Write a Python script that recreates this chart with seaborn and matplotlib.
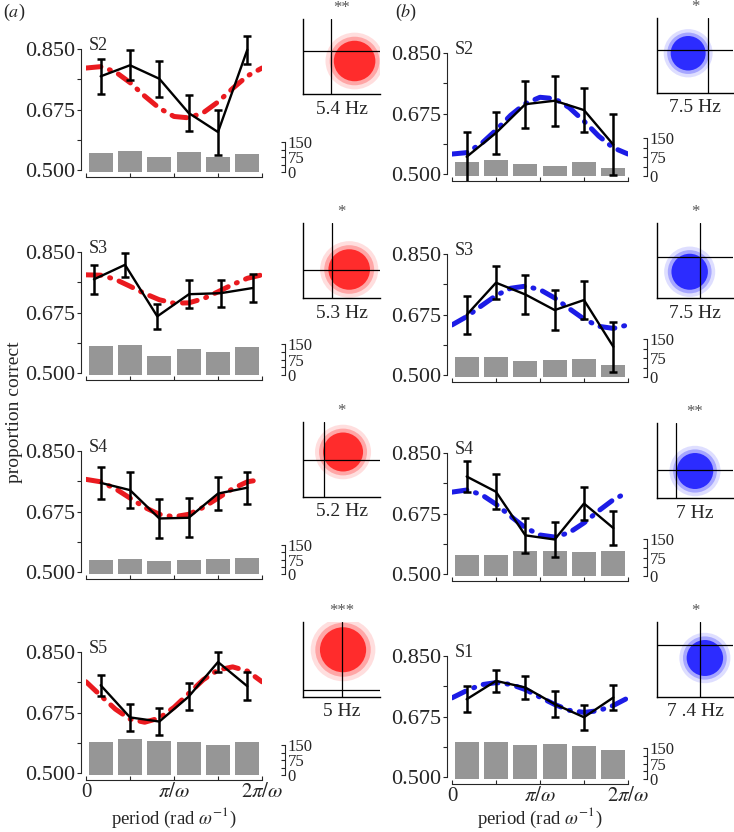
import numpy as np
import matplotlib.pyplot as plt
import pandas as pd
import seaborn as sns
from matplotlib.patches import Circle

sns.set_style("ticks")
plt.rcParams['font.family'] = ['Liberation Serif', 'DejaVu Serif']
plt.rcParams['mathtext.fontset'] = 'stix'

# ---- data ----
# panel order: (a) S2, S3, S4, S5 then (b) S2, S3, S4, S1
subjects = ['S2', 'S3', 'S4', 'S5', 'S2', 'S3', 'S4', 'S1']
freqs = ['5.4 Hz', '5.3 Hz', '5.2 Hz', '5 Hz', '7.5 Hz', '7.5 Hz', '7 Hz', '7 .4 Hz']
stars = ['**', '*', '*', '***', '*', '*', '**', '*']

# phase bin of each point (in units of bin width, 6 bins over one period)
std_bins = [0.5, 1.5, 2.5, 3.5, 4.5, 5.5]
point_bins = [std_bins, [0.27, 1.33, 2.43, 3.51, 4.59, 5.69], std_bins, std_bins,
              std_bins, std_bins, std_bins, std_bins]

means = [
    [0.771, 0.803, 0.764, 0.665, 0.610, 0.848],
    [0.771, 0.813, 0.664, 0.728, 0.731, 0.746],
    [0.758, 0.737, 0.655, 0.657, 0.727, 0.744],
    [0.754, 0.661, 0.649, 0.721, 0.821, 0.751],
    [0.550, 0.619, 0.702, 0.712, 0.685, 0.585],
    [0.674, 0.767, 0.733, 0.688, 0.717, 0.582],
    [0.782, 0.738, 0.612, 0.600, 0.704, 0.633],
    [0.725, 0.778, 0.759, 0.711, 0.673, 0.730],
]
errs = [
    [0.050, 0.043, 0.052, 0.052, 0.065, 0.040],
    [0.042, 0.035, 0.037, 0.040, 0.039, 0.041],
    [0.047, 0.051, 0.055, 0.056, 0.048, 0.046],
    [0.030, 0.038, 0.040, 0.038, 0.029, 0.040],
    [0.072, 0.060, 0.068, 0.072, 0.063, 0.089],
    [0.054, 0.047, 0.055, 0.057, 0.054, 0.072],
    [0.045, 0.050, 0.050, 0.050, 0.047, 0.050],
    [0.037, 0.031, 0.032, 0.037, 0.036, 0.036],
]
# fitted curve sampled every pi/6 across the period
fits = [
    [0.795, 0.799, 0.784, 0.753, 0.714, 0.679, 0.655, 0.651, 0.666, 0.697, 0.736, 0.772, 0.795],
    [0.784, 0.783, 0.771, 0.751, 0.730, 0.712, 0.702, 0.703, 0.715, 0.735, 0.756, 0.774, 0.784],
    [0.768, 0.761, 0.741, 0.714, 0.687, 0.667, 0.660, 0.667, 0.687, 0.714, 0.741, 0.761, 0.768],
    [0.764, 0.724, 0.685, 0.656, 0.647, 0.659, 0.690, 0.730, 0.770, 0.798, 0.807, 0.795, 0.764],
    [0.558, 0.562, 0.588, 0.627, 0.670, 0.704, 0.722, 0.718, 0.692, 0.653, 0.610, 0.576, 0.558],
    [0.645, 0.669, 0.700, 0.730, 0.751, 0.757, 0.747, 0.723, 0.692, 0.662, 0.641, 0.635, 0.645],
    [0.737, 0.743, 0.730, 0.702, 0.667, 0.634, 0.613, 0.607, 0.620, 0.648, 0.683, 0.715, 0.737],
    [0.729, 0.750, 0.767, 0.773, 0.768, 0.753, 0.731, 0.710, 0.693, 0.687, 0.692, 0.707, 0.729],
]
counts = [
    [94, 106, 77, 99, 75, 90],
    [140, 145, 94, 126, 113, 137],
    [75, 77, 68, 72, 80, 82],
    [167, 178, 170, 165, 152, 165],
    [55, 64, 46, 41, 57, 32],
    [79, 80, 62, 66, 72, 47],
    [84, 84, 100, 100, 98, 100],
    [177, 177, 166, 169, 161, 142],
]
# inset: crosshair position and bootstrap cloud (centre, core radius), axes fraction
vlines = [0.36, 0.38, 0.27, 0.50, 0.67, 0.56, 0.25, 0.56]
hlines = [0.57, 0.38, 0.50, 0.10, 0.57, 0.55, 0.38, 0.70]
cloud_x = [0.67, 0.60, 0.52, 0.52, 0.41, 0.43, 0.50, 0.63]
cloud_y = [0.44, 0.38, 0.60, 0.63, 0.53, 0.35, 0.36, 0.52]
cloud_r = [0.27, 0.27, 0.26, 0.30, 0.23, 0.24, 0.24, 0.24]

# ---- layout (pixels) ----
W, H = 734, 832
fig = plt.figure(figsize=(W / 100, H / 100), dpi=100)
px_per_unit = 346.0
col_left = [86, 452]
row_y85 = [[49, 252, 451, 652], [53, 254, 453, 656]]
inset_left = [303, 657]
inset_w = [77, 76]
inset_top = [[19, 223, 422, 622], [18, 223, 423, 622]]
count_px150 = [30, 31, 29, 30, 38, 38, 37, 31]
count_spine_out = [23, 19]
xlabel_y = [818, 818]
fit_colors = ['#ea1a1f', '#1c1ce6']
cloud_colors = ['#ff2626', '#2626ff']

bin_w = np.pi / 3
bar_x = [b * bin_w for b in std_bins]
fit_x = [k * np.pi / 6 for k in range(13)]
ylo, yhi = 0.48, 0.90
ax_h = (yhi - ylo) * px_per_unit

for i in range(8):
    col, row = divmod(i, 4)
    y85 = row_y85[col][row]
    top_px = y85 - (yhi - 0.85) * px_per_unit
    ax = fig.add_axes([col_left[col] / W, 1 - (top_px + ax_h) / H, 176 / W, ax_h / H])

    # count bars on twin axis
    ax2 = ax.twinx()
    df_bar = pd.DataFrame({'phase': bar_x, 'count': counts[i]})
    sns.barplot(data=df_bar, x='phase', y='count', native_scale=True, ax=ax2,
                color='#969696', saturation=1, width=0.82, errorbar=None, linewidth=0)
    c_per_px = 150 / count_px150[i]
    zero_px = 5
    ax2.set_ylim(-zero_px * c_per_px, (ax_h - zero_px) * c_per_px)
    for s in ['top', 'left', 'bottom']:
        ax2.spines[s].set_visible(False)
    ax2.spines['right'].set_position(('outward', count_spine_out[col] * 0.72))
    ax2.spines['right'].set_bounds(0, 150)
    ax2.spines['right'].set_linewidth(0.8)
    ax2.set_yticks([0, 75, 150])
    ax2.set_yticks([37.5, 112.5], minor=True)
    ax2.tick_params(axis='y', which='both', direction='in', length=3, width=0.8,
                    labelsize=12, pad=2)
    ax2.set_xlabel('')
    ax2.set_ylabel('')

    ax.set_zorder(ax2.get_zorder() + 1)
    ax.patch.set_visible(False)

    # fitted curve, means and error bars
    df_fit = pd.DataFrame({'phase': fit_x, 'p': fits[i]})
    sns.lineplot(data=df_fit, x='phase', y='p', ax=ax, color=fit_colors[col], lw=3.6,
                 linestyle=(0, (3.0, 1.8, 0.2, 1.8)), dash_capstyle='round')
    px = [b * bin_w for b in point_bins[i]]
    df_pt = pd.DataFrame({'phase': px, 'p': means[i]})
    sns.lineplot(data=df_pt, x='phase', y='p', ax=ax, color='black', lw=1.7)
    ax.errorbar(px, means[i], yerr=errs[i], fmt='none', ecolor='black',
                elinewidth=1.8, capsize=3, capthick=1.8)

    ax.set_xlim(0, 2 * np.pi)
    ax.set_ylim(ylo, yhi)
    ax.spines['top'].set_visible(False)
    ax.spines['right'].set_visible(False)
    ax.spines['left'].set_position(('outward', 3.6))
    ax.spines['left'].set_bounds(0.5, 0.85)
    ax.spines['bottom'].set_bounds(0, 2 * np.pi)
    for s in ['left', 'bottom']:
        ax.spines[s].set_linewidth(0.8)
    ax.set_yticks([0.5, 0.675, 0.85])
    ax.set_yticklabels(['0.500', '0.675', '0.850'])
    ax.set_yticks([0.5875, 0.7625], minor=True)
    ax.tick_params(axis='y', which='both', direction='out', length=3, width=0.8,
                   labelsize=16, pad=1)
    ax.set_xticks([0, np.pi, 2 * np.pi])
    ax.set_xticks([np.pi / 2, 3 * np.pi / 2], minor=True)
    ax.tick_params(axis='x', which='both', direction='in', length=3, width=0.8,
                   labelsize=15, pad=2)
    if row == 3:
        ax.set_xticklabels(['0', r'$\pi/\omega$', r'$2\pi/\omega$'])
        fig.text((col_left[col] + 88) / W, 1 - xlabel_y[col] / H,
                 r'period (rad $\omega^{-1}$)', fontsize=13.5, ha='center', va='center')
    else:
        ax.set_xticklabels([])
    ax.set_xlabel('')
    ax.set_ylabel('')
    ax.text(0.107, 0.859, subjects[i], fontsize=13, ha='left', va='center')

    # inset with bootstrap cloud
    it = inset_top[col][row]
    iax = fig.add_axes([inset_left[col] / W, 1 - (it + 75) / H, inset_w[col] / W, 75 / H])
    iax.set_xlim(0, 1)
    iax.set_ylim(0, 1)
    iax.set_xticks([])
    iax.set_yticks([])
    iax.spines['top'].set_visible(False)
    iax.spines['right'].set_visible(False)
    for s in ['left', 'bottom']:
        iax.spines[s].set_linewidth(1.0)
        iax.spines[s].set_color('black')
    iax.patch.set_visible(False)
    for scale, alpha in [(1.4, 0.15), (1.2, 0.3), (1.0, 0.95)]:
        iax.add_patch(Circle((cloud_x[i], cloud_y[i]), cloud_r[i] * scale,
                             color=cloud_colors[col], alpha=alpha, lw=0))
    iax.axvline(vlines[i], color='black', lw=0.9)
    iax.axhline(hlines[i], color='black', lw=0.9)
    iax.text(0.5, 1 + 11 / 75, stars[i], ha='center', va='center', fontsize=12,
             color='#555555', transform=iax.transAxes)
    iax.text(0.5, -15 / 75, freqs[i], ha='center', va='center', fontsize=14,
             transform=iax.transAxes)

fig.text(3 / W, 1 - 12 / H, r'($\it{a}$)', fontsize=13, va='center', ha='left')
fig.text(395 / W, 1 - 12 / H, r'($\it{b}$)', fontsize=13, va='center', ha='left')
fig.text(15 / W, 1 - 412 / H, 'proportion correct', fontsize=14, rotation=90,
         ha='center', va='center')

fig.savefig('out.png', dpi=100)
